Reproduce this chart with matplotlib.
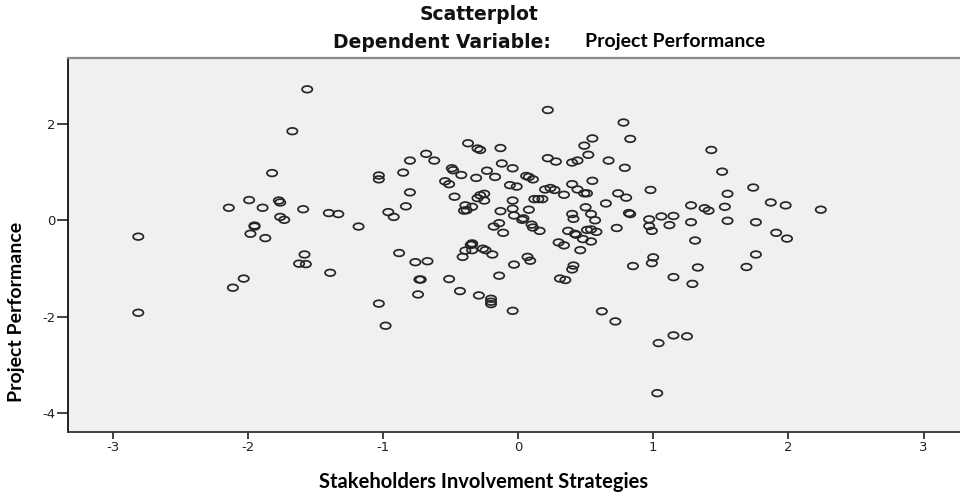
import matplotlib
matplotlib.use("Agg")
import matplotlib.pyplot as plt
from matplotlib.path import Path
from matplotlib.transforms import Affine2D

# standardized predicted value (x) vs Project Performance (y)
x_vals = [-1.56, -1.67, -1.82, -1.99, -2.14, -1.89, -1.77, -1.76, -1.59, -1.76,
          -1.73, -1.40, -1.33, -1.95, -1.95, -1.18, -2.81, -2.81, -1.98, -1.87,
          -1.58, -1.62, -1.57, -1.39, -2.03, -2.11,
          0.22, 0.78, 0.83, 0.55, 0.49, 0.52, 0.67, 0.79, -0.37, -0.30,
          -0.28, -0.13, -0.68, -0.62, -0.80, -0.12, -0.04, 0.22, 0.28, 0.40,
          0.44, -0.49, -0.48, -0.42, -0.23, -0.31, -0.17, -1.03, -1.03, -0.85,
          -0.54, -0.51, 0.06, 0.08, 0.11, -0.06, -0.01, 0.40, 0.44, 0.49,
          0.51, 0.55, 0.20, 0.24, 0.27, 0.34, -0.80, -0.47, -0.28, -0.25,
          -0.30, -0.25, -0.04, 0.12, 0.15, 0.18, 0.74, 0.80, 0.65, 0.50,
          -0.83, -0.96, -0.92, -0.39, -0.34, -0.38, -0.40, -0.13, -0.04, 0.08,
          -0.03, 0.03, 0.04, 0.40, 0.41, 0.54, 0.57, 0.82, 0.83, -0.14,
          -0.18, 0.10, 0.11, 0.16, -0.11, 0.73, 0.37, 0.42, 0.43, 0.51,
          0.54, 0.58, 0.48, 0.54, 0.30, 0.34, 0.46, -0.88, -0.76, -0.67,
          -0.34, -0.34, -0.35, -0.39, -0.34, -0.41, -0.26, -0.24, -0.19, 0.07,
          0.09, -0.03, -0.14, 0.41, 0.40, 0.85, -0.72, -0.73, -0.51, -0.74,
          -0.43, -0.29, -0.20, -0.20, -0.20, 0.31, 0.35, -1.03, -0.98, -0.04,
          0.62, 0.72,
          1.43, 1.51, 0.98, 1.74, 1.55, 1.87, 1.98, 2.24, 1.28, 1.38,
          1.41, 1.53, 0.97, 1.06, 1.15, 1.12, 1.28, 1.55, 1.76, 0.97,
          0.99, 1.91, 1.99, 1.31, 1.00, 0.99, 1.33, 1.76, 1.69, 1.15,
          1.29, 1.15, 1.25, 1.04, 1.03]
y_vals = [2.72, 1.85, 0.98, 0.42, 0.26, 0.26, 0.41, 0.37, 0.23, 0.07,
          0.01, 0.15, 0.13, -0.13, -0.11, -0.13, -0.34, -1.92, -0.28, -0.37,
          -0.71, -0.90, -0.91, -1.09, -1.21, -1.40,
          2.29, 2.03, 1.69, 1.70, 1.55, 1.36, 1.24, 1.09, 1.60, 1.49,
          1.46, 1.50, 1.38, 1.24, 1.24, 1.18, 1.08, 1.29, 1.22, 1.20,
          1.24, 1.08, 1.04, 0.94, 1.03, 0.88, 0.90, 0.93, 0.85, 0.99,
          0.81, 0.75, 0.92, 0.90, 0.85, 0.73, 0.70, 0.75, 0.64, 0.56,
          0.56, 0.82, 0.64, 0.67, 0.63, 0.53, 0.58, 0.49, 0.52, 0.55,
          0.46, 0.41, 0.41, 0.44, 0.44, 0.44, 0.56, 0.47, 0.35, 0.27,
          0.29, 0.17, 0.07, 0.31, 0.28, 0.21, 0.20, 0.19, 0.24, 0.22,
          0.10, 0.01, 0.04, 0.13, 0.03, 0.13, 0.00, 0.15, 0.13, -0.06,
          -0.13, -0.09, -0.15, -0.22, -0.26, -0.16, -0.22, -0.28, -0.30, -0.20,
          -0.19, -0.24, -0.39, -0.44, -0.46, -0.52, -0.62, -0.68, -0.87, -0.85,
          -0.48, -0.50, -0.51, -0.63, -0.62, -0.76, -0.59, -0.62, -0.71, -0.76,
          -0.84, -0.92, -1.15, -0.94, -1.02, -0.95, -1.23, -1.23, -1.22, -1.54,
          -1.47, -1.56, -1.63, -1.69, -1.74, -1.21, -1.24, -1.73, -2.19, -1.88,
          -1.89, -2.10,
          1.46, 1.01, 0.63, 0.68, 0.55, 0.37, 0.31, 0.22, 0.31, 0.25,
          0.20, 0.28, 0.02, 0.08, 0.09, -0.10, -0.04, -0.01, -0.04, -0.12,
          -0.22, -0.26, -0.38, -0.42, -0.77, -0.89, -0.98, -0.71, -0.97, -1.18,
          -1.32, -2.39, -2.41, -2.55, -3.59]

x_ticks = [-3, -2, -1, 0, 1, 2, 3]
y_ticks = [-4, -2, 0, 2]

plt.rcParams["axes.unicode_minus"] = False

fig = plt.figure(figsize=(9.6, 4.92), dpi=100)
ax = fig.add_axes([68 / 960, 1 - 431.7 / 492, 1 - 68 / 960, (431.7 - 58) / 492])
ax.set_facecolor("#f0f0f0")

# SPSS circles look flattened in this image, so use a wide ellipse marker
ellipse = Path.unit_circle().transformed(Affine2D().scale(1.55, 1.0))
ax.scatter(x_vals, y_vals, s=7.4 ** 2, marker=ellipse, facecolors="none",
           edgecolors="#262626", linewidths=1.25, zorder=3)

ax.set_xlim(-3.33, 3.27)
ax.set_ylim(-4.39, 3.37)
ax.set_xticks(x_ticks)
ax.set_yticks(y_ticks)
ax.set_xticklabels([str(t) for t in x_ticks])
ax.set_yticklabels([str(t) for t in y_ticks])
ax.tick_params(axis="x", direction="out", length=5, width=1.2, color="#222222",
               pad=1.5, labelsize=9.5, labelcolor="#222222")
ax.tick_params(axis="y", direction="out", length=8, width=1.2, color="#222222",
               pad=1, labelsize=9.5, labelcolor="#222222")

ax.spines["right"].set_visible(False)
ax.spines["top"].set_color("#8a8a8a")
ax.spines["top"].set_linewidth(1.6)
ax.spines["left"].set_color("#111111")
ax.spines["left"].set_linewidth(1.3)
ax.spines["bottom"].set_color("#333333")
ax.spines["bottom"].set_linewidth(1.3)

fig.text(479 / 960, 1 - 15 / 492, "Scatterplot", ha="center", va="center",
         fontsize=13.5, fontweight="bold", family="DejaVu Sans", color="#111111")
fig.text(557 / 960, 1 - 43 / 492, "Dependent Variable: ", ha="right", va="center",
         fontsize=13.5, fontweight="bold", family="DejaVu Sans", color="#111111")
fig.text(585 / 960, 1 - 41 / 492, "Project Performance", ha="left", va="center",
         fontsize=14, fontweight="bold", family="Lato", color="black")

fig.text(17 / 960, 1 - 312 / 492, "Project Performance", ha="center", va="center",
         rotation=90, fontsize=14, fontweight="bold", family="Lato", color="black")
fig.text(484 / 960, 1 - 482 / 492, "Stakeholders Involvement Strategies", ha="center",
         va="center", fontsize=14.5, fontweight="bold", family="Lato", color="black")

plt.savefig("out.png", dpi=100)
